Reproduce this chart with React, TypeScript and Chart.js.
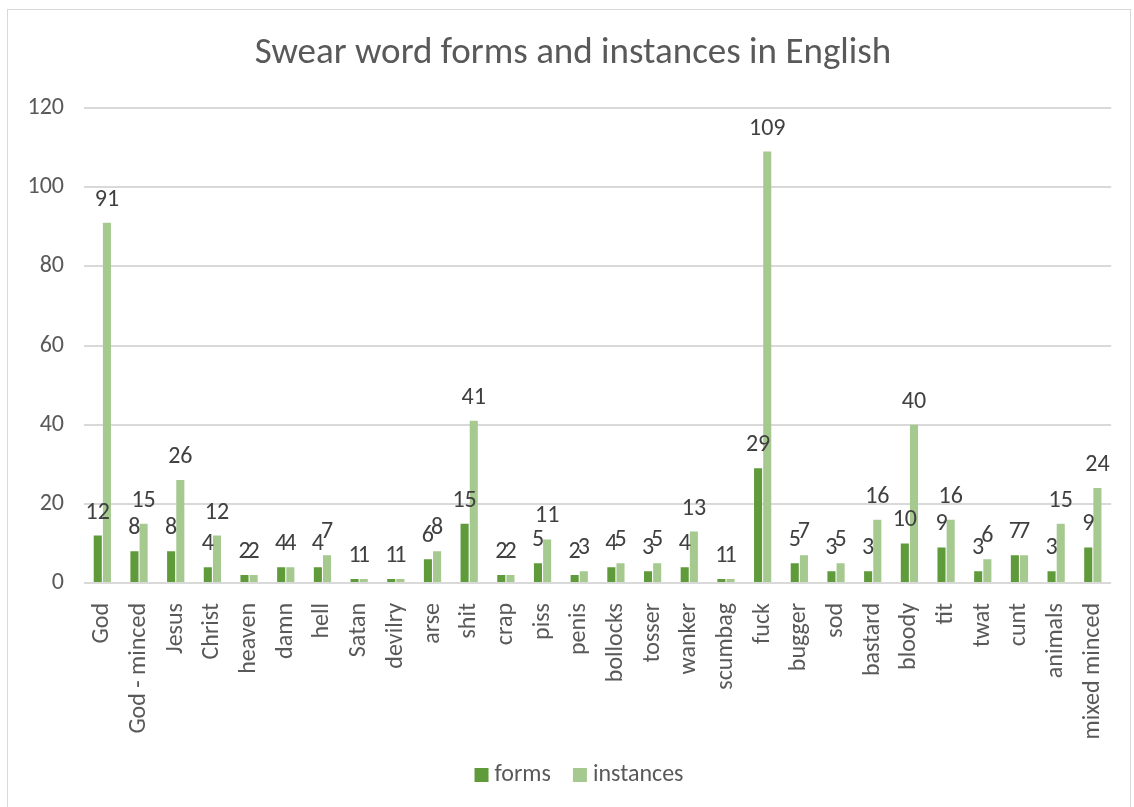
import React, { useEffect, useRef } from "react";
import { Chart, registerables } from "chart.js";

Chart.register(...registerables);

const categories = [
  "God", "God - minced", "Jesus", "Christ", "heaven", "damn", "hell", "Satan", "devilry", "arse",
  "shit", "crap", "piss", "penis", "bollocks", "tosser", "wanker", "scumbag", "fuck", "bugger",
  "sod", "bastard", "bloody", "tit", "twat", "cunt", "animals", "mixed minced",
];
const forms = [12, 8, 8, 4, 2, 4, 4, 1, 1, 6, 15, 2, 5, 2, 4, 3, 4, 1, 29, 5, 3, 3, 10, 9, 3, 7, 3, 9];
const instances = [91, 15, 26, 12, 2, 4, 7, 1, 1, 8, 41, 2, 11, 3, 5, 5, 13, 1, 109, 7, 5, 16, 40, 16, 6, 7, 15, 24];
const titleText = "Swear word forms and instances in English";

const FONT = "Carlito, 'Liberation Sans', Arial, sans-serif";

const decorPlugin = {
  id: "decor",
  beforeDraw(chart: any) {
    const ctx = chart.ctx;
    ctx.save();
    ctx.fillStyle = "#ffffff";
    ctx.fillRect(0, 0, chart.width, chart.height);
    ctx.strokeStyle = "#d9d9d9";
    ctx.lineWidth = 1;
    ctx.strokeRect(7.5, 9.5, 1123, 900);
    ctx.restore();
  },
  afterDraw(chart: any) {
    const ctx = chart.ctx;
    ctx.save();
    ctx.fillStyle = "#595959";
    ctx.font = `37px ${FONT}`;
    ctx.textAlign = "center";
    ctx.textBaseline = "middle";
    ctx.fillText(titleText, 573, 54);

    // legend
    ctx.font = `24px ${FONT}`;
    ctx.textAlign = "left";
    ctx.textBaseline = "middle";
    const items = chart.data.datasets.map((ds: any) => ({
      label: ds.label,
      color: ds.backgroundColor,
      w: ctx.measureText(ds.label).width,
    }));
    const gapBoxText = 6;
    const gapItems = 22;
    const box = 14;
    const total = items.reduce((s: number, it: any) => s + box + gapBoxText + it.w, 0) + gapItems * (items.length - 1);
    let x = 579 - total / 2;
    const cy = 775;
    items.forEach((it: any) => {
      ctx.fillStyle = it.color;
      ctx.fillRect(x, cy - box / 2, box, box);
      ctx.fillStyle = "#595959";
      ctx.fillText(it.label, x + box + gapBoxText, cy);
      x += box + gapBoxText + it.w + gapItems;
    });
    ctx.restore();
  },
};

const labelPlugin = {
  id: "valueLabels",
  afterDatasetsDraw(chart: any) {
    const ctx = chart.ctx;
    ctx.save();
    ctx.fillStyle = "#404040";
    ctx.font = `24px ${FONT}`;
    ctx.textAlign = "center";
    ctx.textBaseline = "alphabetic";
    chart.data.datasets.forEach((ds: any, di: number) => {
      const meta = chart.getDatasetMeta(di);
      meta.data.forEach((bar: any, i: number) => {
        ctx.fillText(String(ds.data[i]), bar.x, bar.y - 17);
      });
    });
    ctx.restore();
  },
};

export default function App() {
  const ref = useRef<HTMLCanvasElement>(null);
  useEffect(() => {
    const chart = new Chart(ref.current as HTMLCanvasElement, {
      type: "bar",
      data: {
        labels: categories,
        datasets: [
          { label: "forms", data: forms, backgroundColor: "#5f9a3b", categoryPercentage: 0.5, barPercentage: 0.88 },
          { label: "instances", data: instances, backgroundColor: "#a6c990", categoryPercentage: 0.5, barPercentage: 0.88 },
        ],
      },
      options: {
        animation: false,
        responsive: false,
        maintainAspectRatio: false,
        layout: { padding: { top: 108, left: 0, right: 21, bottom: 12 } },
        plugins: {
          title: { display: false },
          tooltip: { enabled: false },
          legend: { display: false },
        },
        scales: {
          x: {
            grid: { display: false },
            border: { display: false },
            ticks: {
              color: "#595959",
              font: { family: FONT, size: 24 },
              minRotation: 90,
              maxRotation: 90,
              autoSkip: false,
              padding: 12,
            },
            afterFit(scale: any) {
              scale.height = 212;
            },
          },
          y: {
            min: 0,
            max: 120,
            grid: { color: "#d9d9d9", lineWidth: 2, drawTicks: false },
            border: { display: false },
            ticks: {
              stepSize: 20,
              color: "#595959",
              font: { family: FONT, size: 24 },
              padding: 20,
            },
            afterFit(scale: any) {
              scale.width = 84;
            },
          },
        },
      },
      plugins: [decorPlugin, labelPlugin],
    } as any);
    return () => chart.destroy();
  }, []);
  return (
    <div style={{ position: "absolute", left: 0, top: 0, width: 1134, height: 807 }}>
      <canvas ref={ref} width={1134} height={807} style={{ display: "block" }} />
    </div>
  );
}
